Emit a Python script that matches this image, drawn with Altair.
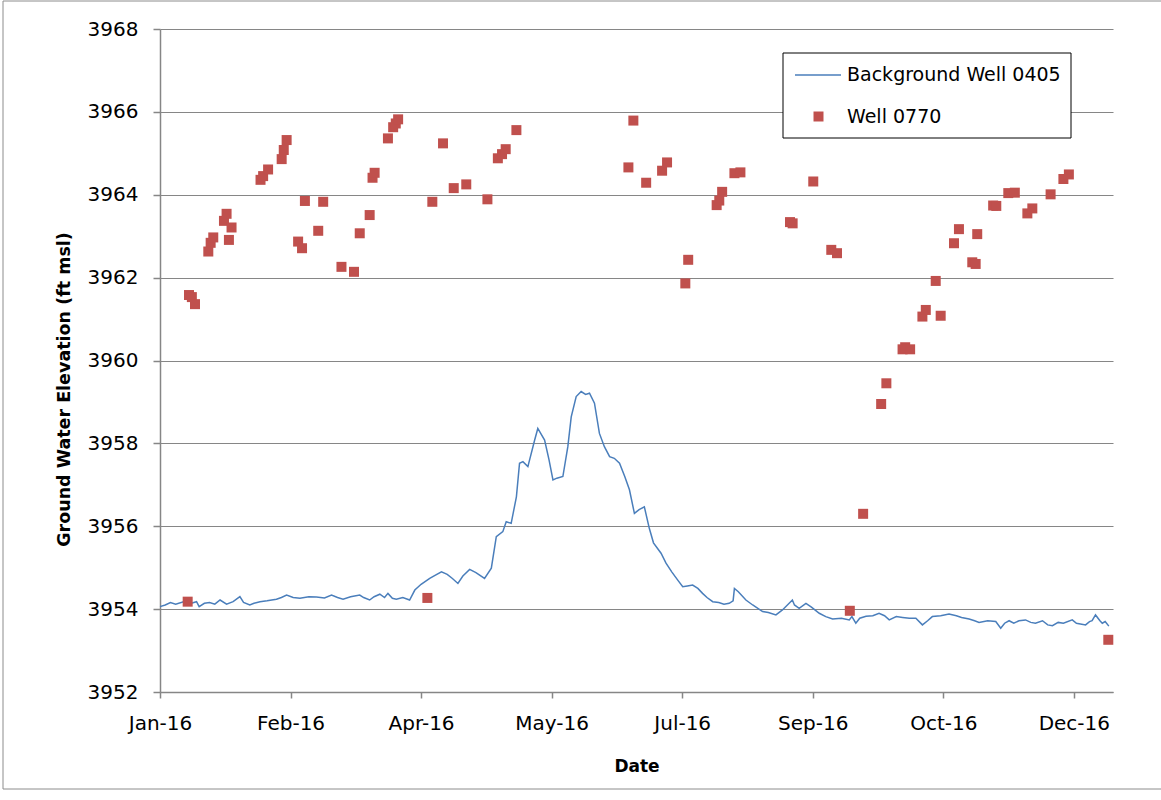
import altair as alt
import pandas as pd

# ---- data (days since 1 Jan 2016, elevation ft msl) ----
bg_day = [0, 2, 4, 6, 9, 12, 14, 15, 17, 19, 21, 23, 25.5, 28, 30.6, 32, 34.4, 36, 38.3, 41,
          44.6, 46.5, 48.5, 51, 53.6, 57, 59.9, 63, 65.7, 68, 70.1, 73, 76.5, 78, 80.3, 82,
          84.2, 86, 87.3, 89, 90.5, 93, 95.6, 97.6, 100, 103.3, 105.5, 107.8, 110, 112, 114.1,
          116, 118.6, 121, 124.3, 126.9, 128.8, 131.3, 132.6, 134.5, 136.5, 137.7, 139, 140.9,
          143.5, 144.7, 147.3, 149, 150.5, 152, 154.3, 156.2, 157.5, 159.4, 161.3, 163, 164.5,
          166.4, 168.3, 170.2, 172.2, 174, 176, 178, 179.8, 181.7, 183.5, 185.5, 187.4, 189,
          191.9, 193.8, 196, 198.3, 200.2, 202, 204, 206, 207.8, 209.5, 211.7, 214, 216, 218,
          219.5, 220, 221.5, 224.4, 227, 230.8, 233, 235.9, 238.4, 242.2, 243, 244.8, 247.4,
          249.5, 252.5, 255, 257.6, 261, 264, 265, 266.5, 268, 270.4, 273, 275.4, 277.5, 279.3,
          282, 284.4, 287, 289.5, 292, 294, 295.8, 299, 302.2, 305, 307, 309.9, 312, 313.7, 317,
          320.1, 322, 323.5, 325.2, 327, 329, 331.5, 333.5, 335.3, 338, 340, 341.8, 344, 346,
          349.4, 351, 354.5, 356, 357, 358.3, 360, 360.9, 362, 363.4]
bg_val = [3954.06, 3954.10, 3954.16, 3954.12, 3954.18, 3954.14, 3954.18, 3954.06, 3954.14, 3954.16,
          3954.12, 3954.22, 3954.12, 3954.18, 3954.30, 3954.16, 3954.10, 3954.14, 3954.18, 3954.20,
          3954.24, 3954.28, 3954.34, 3954.28, 3954.26, 3954.30, 3954.29, 3954.27, 3954.34, 3954.28,
          3954.24, 3954.30, 3954.34, 3954.28, 3954.22, 3954.30, 3954.36, 3954.28, 3954.38, 3954.26,
          3954.24, 3954.28, 3954.22, 3954.46, 3954.60, 3954.74, 3954.82, 3954.90, 3954.84, 3954.74,
          3954.62, 3954.80, 3954.96, 3954.88, 3954.74, 3954.99, 3955.75, 3955.87, 3956.11, 3956.07,
          3956.71, 3957.52, 3957.56, 3957.44, 3958.08, 3958.36, 3958.08, 3957.60, 3957.12, 3957.16,
          3957.20, 3957.92, 3958.64, 3959.13, 3959.25, 3959.18, 3959.21, 3958.97, 3958.24, 3957.92,
          3957.68, 3957.64, 3957.52, 3957.20, 3956.88, 3956.31, 3956.40, 3956.47, 3955.95, 3955.60,
          3955.35, 3955.11, 3954.90, 3954.70, 3954.54, 3954.56, 3954.58, 3954.50, 3954.38, 3954.28,
          3954.18, 3954.16, 3954.12, 3954.14, 3954.20, 3954.50, 3954.42, 3954.22, 3954.10, 3953.94,
          3953.92, 3953.86, 3953.98, 3954.22, 3954.10, 3954.02, 3954.14, 3954.05, 3953.90, 3953.82,
          3953.76, 3953.78, 3953.74, 3953.82, 3953.66, 3953.78, 3953.83, 3953.84, 3953.90, 3953.84,
          3953.74, 3953.82, 3953.80, 3953.78, 3953.78, 3953.62, 3953.72, 3953.82, 3953.84, 3953.88,
          3953.84, 3953.80, 3953.76, 3953.72, 3953.68, 3953.72, 3953.70, 3953.54, 3953.66, 3953.72,
          3953.66, 3953.72, 3953.74, 3953.68, 3953.66, 3953.72, 3953.62, 3953.60, 3953.68, 3953.66,
          3953.74, 3953.66, 3953.62, 3953.70, 3953.72, 3953.86, 3953.72, 3953.66, 3953.70, 3953.59]

w_day = [10.6, 11.1, 12.2, 13.4, 18.5, 19.4, 20.4, 24.5, 25.5, 26.4, 27.4, 38.5, 39.5, 41.4,
         46.6, 47.4, 48.5, 52.9, 54.4, 55.5, 60.6, 62.5, 69.5, 74.3, 76.5, 80.3, 81.4, 82.2,
         87.3, 89.3, 90.3, 91.2, 102.4, 104.3, 108.4, 112.5, 117.3, 125.4, 129.4, 131.0, 132.4,
         136.5, 179.4, 181.3, 186.2, 192.3, 194.2, 201.2, 202.3, 213.2, 214.2, 215.3, 220.0,
         222.3, 241.3, 242.3, 250.2, 257.1, 259.3, 264.2, 269.3, 276.2, 278.2, 284.4, 285.4,
         287.3, 292.0, 293.3, 297.1, 299.0, 304.1, 306.0, 311.1, 312.4, 313.0, 319.1, 320.3,
         324.9, 327.4, 332.2, 334.1, 341.1, 346.0, 348.1, 363.2]
w_val = [3954.18, 3961.58, 3961.53, 3961.36, 3962.63, 3962.84, 3962.97, 3963.37, 3963.54, 3962.91,
         3963.21, 3964.36, 3964.45, 3964.61, 3964.86, 3965.08, 3965.32, 3962.87, 3962.71, 3963.85,
         3963.13, 3963.83, 3962.26, 3962.14, 3963.07, 3963.51, 3964.41, 3964.53, 3965.36, 3965.63,
         3965.72, 3965.82, 3954.27, 3963.83, 3965.24, 3964.16, 3964.25, 3963.89, 3964.88, 3964.98,
         3965.10, 3965.56, 3964.66, 3965.79, 3964.29, 3964.58, 3964.78, 3961.86, 3962.43, 3963.75,
         3963.86, 3964.07, 3964.52, 3964.54, 3963.34, 3963.31, 3964.32, 3962.67, 3962.59, 3953.96,
         3956.30, 3958.95, 3959.45, 3960.27, 3960.32, 3960.27, 3961.06, 3961.22, 3961.92, 3961.08,
         3962.83, 3963.17, 3962.37, 3962.33, 3963.05, 3963.74, 3963.73, 3964.04, 3964.05, 3963.55,
         3963.67, 3964.01, 3964.38, 3964.49, 3953.26]

series_names = ["Background Well 0405", "Well 0770"]
tick_days = [0, 50, 100, 150, 200, 250, 300, 350]
y_ticks = list(range(3952, 3969, 2))

base = pd.Timestamp("2016-01-01")
bg = pd.DataFrame({"date": base + pd.to_timedelta(bg_day, unit="D"), "elev": bg_val,
                   "series": series_names[0]})
w = pd.DataFrame({"date": base + pd.to_timedelta(w_day, unit="D"), "elev": w_val,
                  "series": series_names[1]})

def dt(ts):
    return alt.DateTime(year=ts.year, month=ts.month, date=ts.day)

tick_vals = [dt(base + pd.Timedelta(days=d)) for d in tick_days]
x_dom = [dt(base), dt(pd.Timestamp("2016-12-31"))]

FONT = "DejaVu Sans"
GRAY = "#868686"

x_enc = alt.X("date:T", scale=alt.Scale(domain=x_dom),
              axis=alt.Axis(values=tick_vals, format="%b-%y", title="Date", grid=False,
                            tickSize=6, labelPadding=25, labelBaseline="middle",
                            labelFlush=False, labelOverlap=False,
                            titleY=74, titleBaseline="middle"))
y_enc = alt.Y("elev:Q", scale=alt.Scale(domain=[3952, 3968], nice=False, zero=False),
              axis=alt.Axis(values=y_ticks, format="d", title="Ground Water Elevation (ft msl)",
                            tickSize=7, labelPadding=15, grid=True,
                            titleX=-96, titleY=360, titleAngle=270, titleAlign="center",
                            titleBaseline="middle", titleFontSize=17.5))

one = alt.Data(values=[{"a": 1}])

frame = alt.Chart(one).mark_rect(fillOpacity=0, stroke="#8c8c8c", strokeWidth=1).encode(
    x=alt.value(-157), x2=alt.value(1010), y=alt.value(-28), y2=alt.value(760))

legend_box = alt.Chart(one).mark_rect(fill="white", stroke="black", strokeWidth=1).encode(
    x=alt.value(623), x2=alt.value(911), y=alt.value(24), y2=alt.value(109))

line = alt.Chart(bg).mark_line(strokeWidth=1.5).encode(
    x=x_enc, y=y_enc,
    color=alt.Color("series:N", scale=alt.Scale(domain=[series_names[0]], range=["#4A7EBB"]),
                    legend=alt.Legend(orient="none", legendX=634, legendY=22, title=None,
                                      symbolType="stroke", symbolSize=2116,
                                      symbolStrokeWidth=1.5, labelOffset=5, padding=0,
                                      labelLimit=0,
                                      labelFontSize=19, labelFont=FONT, labelColor="black")))

pts = alt.Chart(w).mark_point(filled=True, size=100, opacity=1, color="#C0504D").encode(
    x=x_enc, y=y_enc,
    shape=alt.Shape("series:N", scale=alt.Scale(domain=[series_names[1]], range=["square"]),
                    legend=alt.Legend(orient="none", legendX=649, legendY=78, title=None,
                                      symbolSize=100, symbolFillColor="#C0504D",
                                      symbolStrokeWidth=0, symbolOpacity=1,
                                      labelOffset=19, padding=0, labelLimit=0,
                                      labelFontSize=19, labelFont=FONT, labelColor="black")))

chart = alt.layer(frame, legend_box, line, pts).resolve_scale(
    color="independent", shape="independent"
).properties(
    width=953, height=663,
    autosize=alt.AutoSizeParams(type="none"),
    padding={"left": 160, "top": 29, "right": 48, "bottom": 108},
    background="white",
).configure_view(stroke=None).configure_axis(
    domainColor=GRAY, tickColor=GRAY, gridColor=GRAY, domainWidth=1.5, tickWidth=1.5,
    gridWidth=1.2, labelFont=FONT, labelFontSize=20, labelColor="black",
    titleFont=FONT, titleFontSize=17, titleFontWeight="bold", titleColor="black"
)

chart.save("out.html", embed_options={"renderer": "svg", "actions": False})
